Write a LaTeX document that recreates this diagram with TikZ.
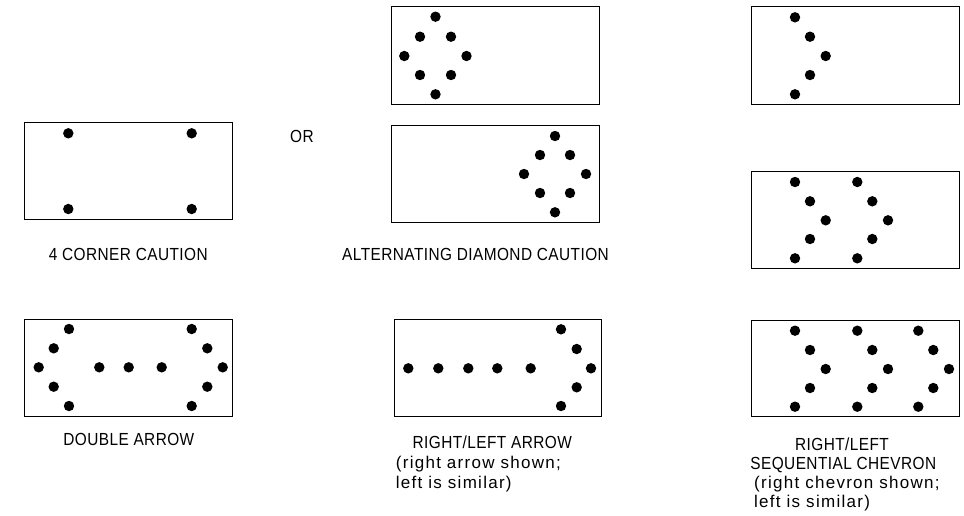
\documentclass[tikz,border=0pt]{standalone}
\usepackage{fontspec}
\newfontfamily\capsfont[FakeStretch=0.88,LetterSpace=2.5]{Liberation Sans}
\newfontfamily\lowfont[LetterSpace=7.5]{Liberation Sans}
\tikzset{
  panel/.style={draw=black, line width=0.9pt},
  spot/.style={fill=black},
  caps/.style={font=\capsfont\fontsize{17.5}{20}\selectfont, inner sep=0pt, anchor=base},
  lowtxt/.style={font=\lowfont\fontsize{17}{20}\selectfont, inner sep=0pt, anchor=base west}
}
\begin{document}
\begin{tikzpicture}[x=1pt,y=-1pt]
\useasboundingbox (0,0) rectangle (964,515);
% ---- 4 corner caution
\draw[panel] (24.5,122.3) rectangle (232.3,219);
\foreach \p in {(68.3,133.3),(191.7,133.3),(68.3,209),(191.7,209)}
  \fill[spot] \p circle (5.2pt);
\node[caps] (lblcorner) at (128.3,260) {4 CORNER CAUTION};
\node[caps] (lblor) at (302,142) {OR};
% ---- alternating diamond (top)
\draw[panel] (391,6.7) rectangle (599,104.3);
\foreach \p in {(435.5,16.7),(420,36.7),(451,36.7),(404.3,56),(466.5,56),(420,75),(451,75),(435.5,94.3)}
  \fill[spot] \p circle (5.2pt);
% ---- alternating diamond (bottom)
\draw[panel] (391,125.7) rectangle (599,222.7);
\foreach \p in {(555,136),(540,155),(570,155),(524,174),(586,174),(540,193),(570,193),(555,212.3)}
  \fill[spot] \p circle (5.2pt);
\node[caps] (lbldiamond) at (475.5,260) {ALTERNATING DIAMOND CAUTION};
% ---- single chevron
\draw[panel] (751,6.7) rectangle (959,104.3);
\foreach \p in {(795,17.3),(810,36.7),(825.7,56),(810,75),(795,94.3)}
  \fill[spot] \p circle (5.2pt);
% ---- double chevron
\draw[panel] (751,171.7) rectangle (959,268.7);
\foreach \dx in {0,62.3}{
  \foreach \p/\q in {795/182,810/201.3,825.7/220.3,810/239,795/258.3}
    \fill[spot] (\p+\dx,\q) circle (5.2pt);
}
% ---- double arrow
\draw[panel] (24.7,319) rectangle (232.3,416);
\foreach \p in {(69,329),(53.7,348.3),(38.7,367.3),(53.7,386.7),(69,406),
                (99.3,367.3),(128.7,367.3),(161.7,367.3),
                (191.7,329),(207.3,348.3),(222.7,367.3),(207.3,386.7),(191.7,406)}
  \fill[spot] \p circle (5.2pt);
\node[caps] (lbldouble) at (128.8,445.7) {DOUBLE ARROW};
% ---- right/left arrow
\draw[panel] (394,319) rectangle (601.7,416);
\foreach \p in {(408.3,368.3),(438.3,368.3),(468.3,368.3),(497.3,368.3),(530.7,368.3),
                (561,329.3),(576.7,349),(591,368.3),(576.7,387.3),(561,406)}
  \fill[spot] \p circle (5.2pt);
\node[caps] (lblarrow) at (492.2,448.5) {RIGHT/LEFT ARROW};
\node[lowtxt] (lblarrow2) at (395.7,468) {(right arrow shown;};
\node[lowtxt] (lblarrow3) at (395.7,488.5) {left is similar)};
% ---- sequential chevron
\draw[panel] (751,320) rectangle (959,416.7);
\foreach \dx in {0,62.3,123.3}{
  \foreach \p/\q in {795/330.7,810/350,825.7/369,810/388,795/406.7}
    \fill[spot] (\p+\dx,\q) circle (5.2pt);
}
\node[caps] (lblchev1) at (842,450) {RIGHT/LEFT};
\node[caps] (lblchev2) at (843.3,469.3) {SEQUENTIAL CHEVRON};
\node[lowtxt] (lblchev3) at (754,488.5) {(right chevron shown;};
\node[lowtxt] (lblchev4) at (754,507.5) {left is similar)};
\end{tikzpicture}
\end{document}
